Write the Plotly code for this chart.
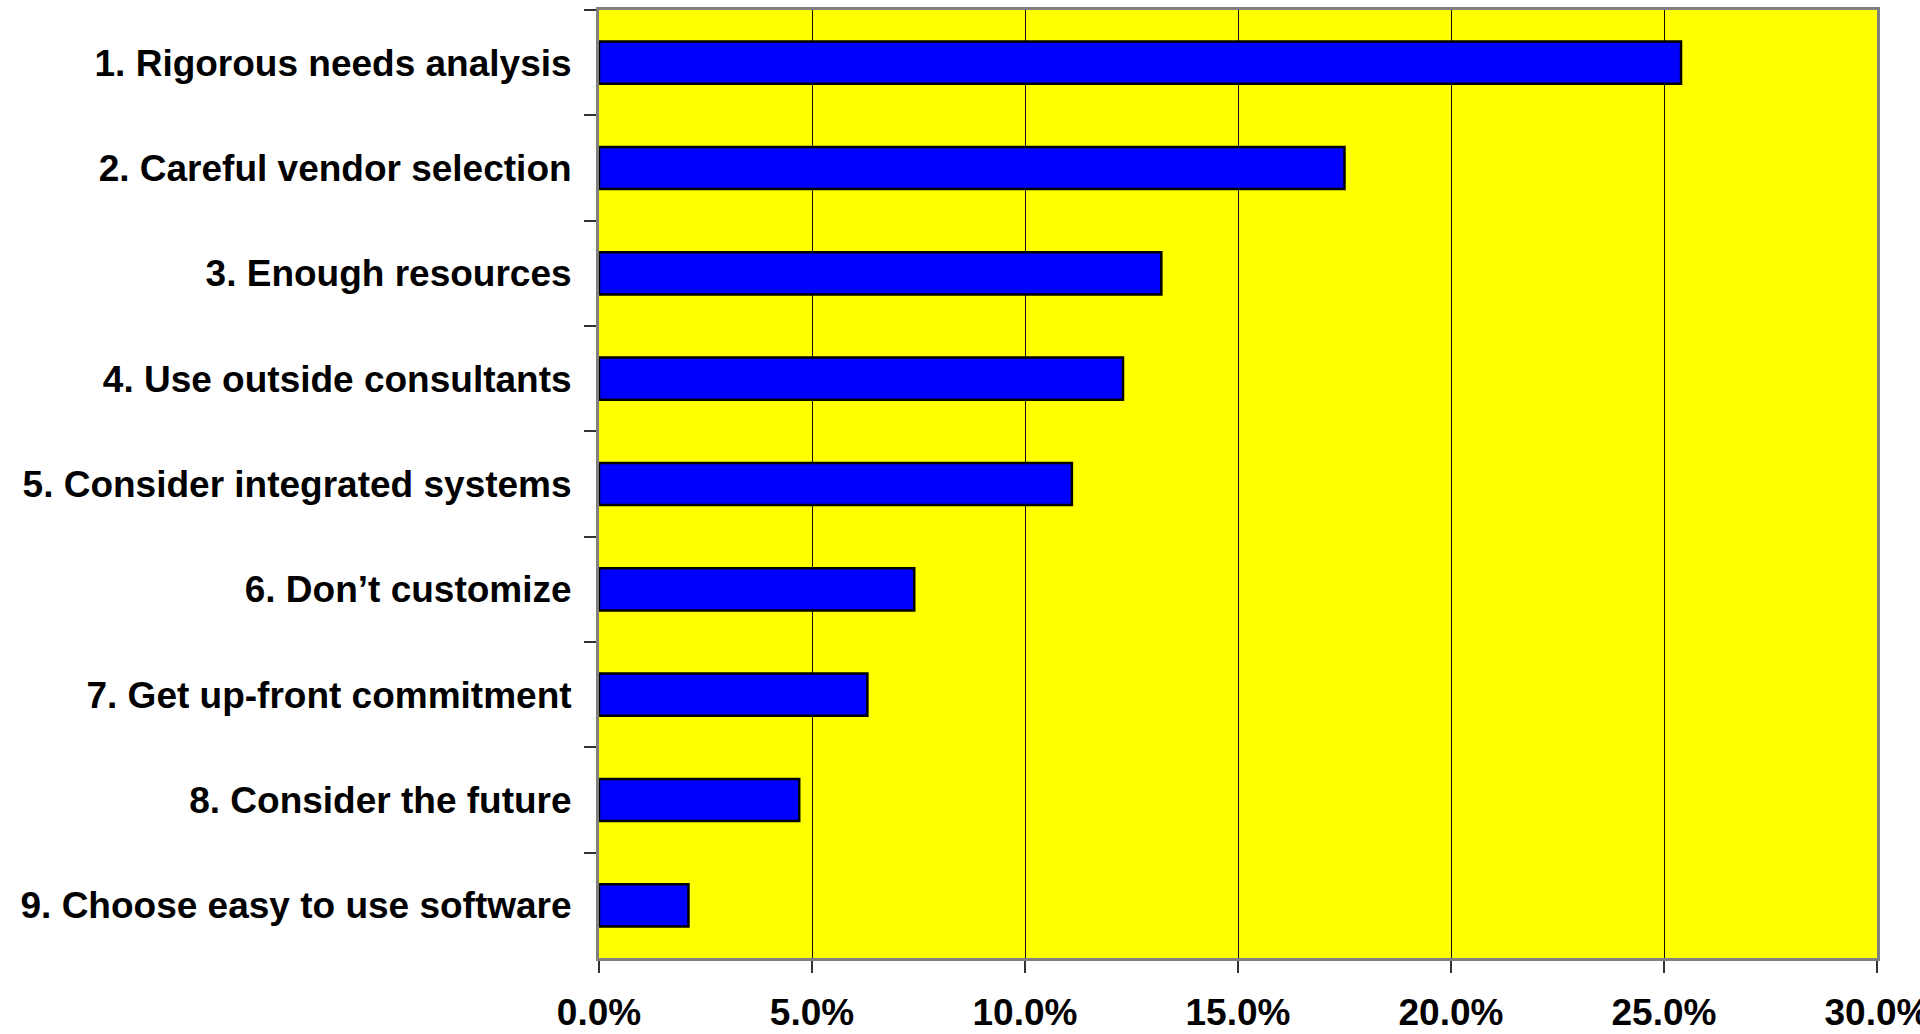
import plotly.graph_objects as go

categories = [
    "1. Rigorous needs analysis",
    "2. Careful vendor selection",
    "3. Enough resources",
    "4. Use outside consultants",
    "5. Consider integrated systems",
    "6. Don\u2019t customize",
    "7. Get up-front commitment",
    "8. Consider the future",
    "9. Choose easy to use software",
]
values = [25.4, 17.5, 13.2, 12.3, 11.1, 7.4, 6.3, 4.7, 2.1]
tick_vals = [0, 5, 10, 15, 20, 25, 30]
tick_text = ["0.0%", "5.0%", "10.0%", "15.0%", "20.0%", "25.0%", "30.0%"]

fig = go.Figure(
    go.Bar(
        x=values,
        y=categories,
        orientation="h",
        marker=dict(color="#0000FF", line=dict(color="#000000", width=2.5)),
        hoverinfo="x+y",
    )
)

font_family = "Liberation Sans, Arial, sans-serif"

fig.update_layout(
    width=1920,
    height=1034,
    margin=dict(l=599, r=43, t=10, b=76, autoexpand=False),
    paper_bgcolor="white",
    plot_bgcolor="#FFFF00",
    bargap=0.6,
    showlegend=False,
    font=dict(family=font_family, color="black"),
)

fig.update_xaxes(
    range=[0, 30],
    tickvals=tick_vals,
    ticktext=tick_text,
    tickfont=dict(family=font_family, size=37, color="black", weight="bold"),
    ticks="outside",
    ticklen=12,
    tickwidth=2,
    tickcolor="#333333",
    showgrid=True,
    gridcolor="#111111",
    gridwidth=1,
    showline=True,
    linecolor="#808080",
    linewidth=3,
    mirror=True,
    zeroline=False,
    ticklabelstandoff=8,
    ticklabeloverflow="allow",
    automargin=False,
)

fig.update_yaxes(
    autorange="reversed",
    tickson="boundaries",
    ticks="outside",
    ticklen=12,
    tickwidth=2,
    tickcolor="#333333",
    tickfont=dict(family=font_family, size=37, color="black", weight="bold"),
    showgrid=False,
    showline=True,
    linecolor="#808080",
    linewidth=3,
    mirror=True,
    ticklabelstandoff=17,
    automargin=False,
)

fig.write_html("out.html")
